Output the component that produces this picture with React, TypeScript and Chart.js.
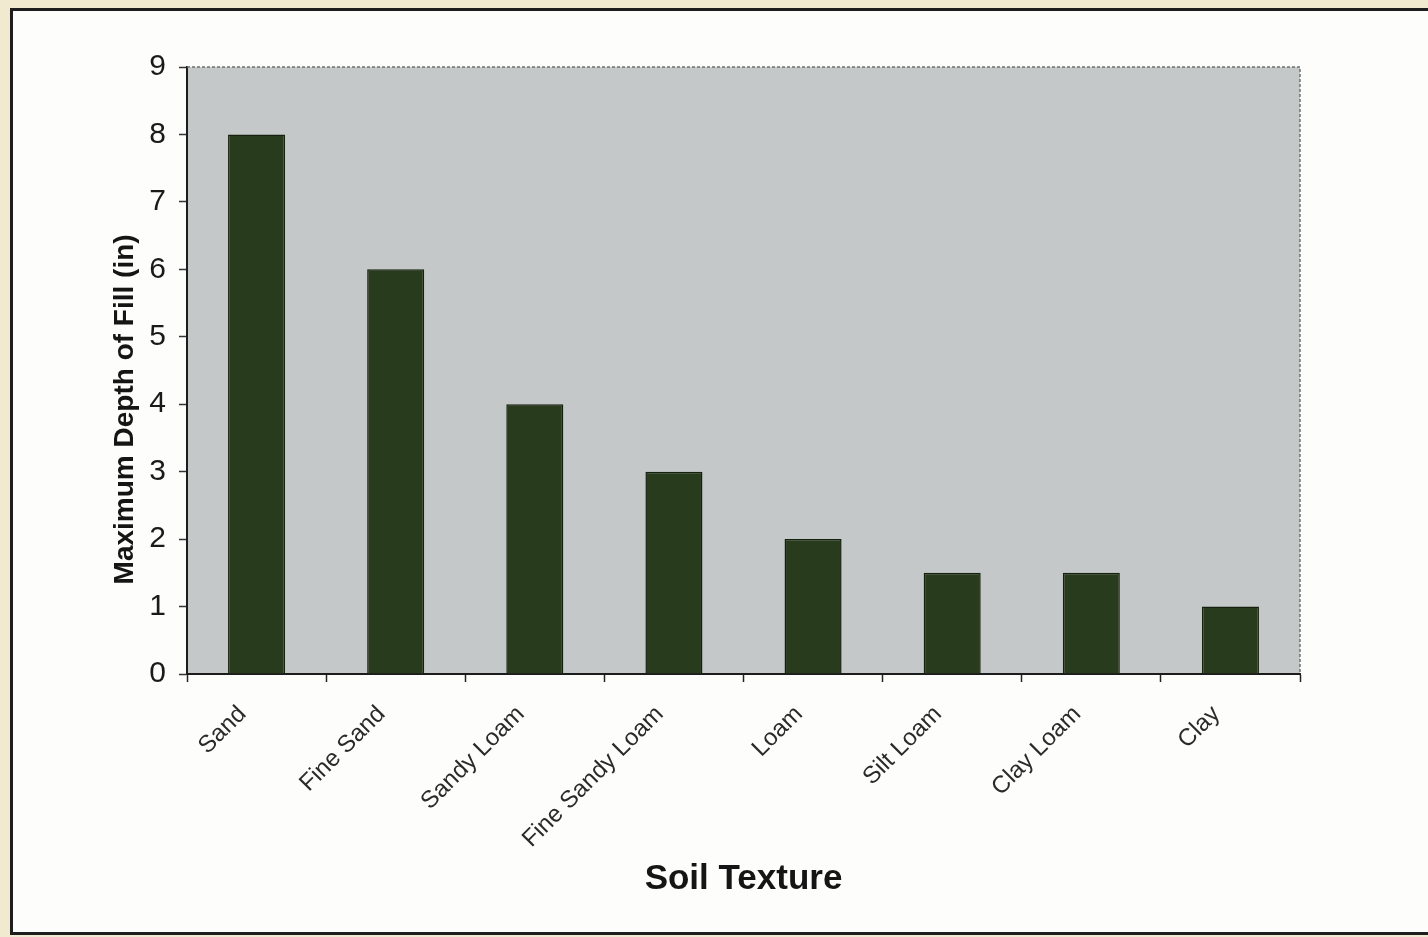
import React, { useEffect, useRef } from "react";
import { Chart, registerables } from "chart.js";

Chart.register(...registerables);

const categories = [
  "Sand",
  "Fine Sand",
  "Sandy Loam",
  "Fine Sandy Loam",
  "Loam",
  "Silt Loam",
  "Clay Loam",
  "Clay",
];
const depthValues = [8, 6, 4, 3, 2, 1.5, 1.5, 1];
const yTickMin = 0;
const yTickMax = 9;
const yTickStep = 1;
const xTitle = "Soil Texture";
const yTitle = "Maximum Depth of Fill (in)";

const FONT = "'Liberation Sans', Arial, Helvetica, sans-serif";

const plotFrame = {
  id: "plotFrame",
  beforeDraw(chart: any) {
    const { ctx, chartArea } = chart;
    ctx.save();
    ctx.fillStyle = "#c5c8c8";
    ctx.fillRect(
      chartArea.left,
      chartArea.top,
      chartArea.right - chartArea.left,
      chartArea.bottom - chartArea.top
    );
    ctx.restore();
  },
  afterDraw(chart: any) {
    const { ctx, chartArea } = chart;
    ctx.save();
    ctx.strokeStyle = "#6f7070";
    ctx.lineWidth = 1.5;
    ctx.setLineDash([3, 2]);
    ctx.beginPath();
    ctx.moveTo(chartArea.left, chartArea.top);
    ctx.lineTo(chartArea.right, chartArea.top);
    ctx.lineTo(chartArea.right, chartArea.bottom);
    ctx.stroke();
    ctx.restore();
  },
};

export default function App() {
  const canvasRef = useRef<HTMLCanvasElement | null>(null);

  useEffect(() => {
    if (!canvasRef.current) return;
    const chart = new Chart(canvasRef.current, {
      type: "bar",
      data: {
        labels: categories,
        datasets: [
          {
            label: yTitle,
            data: depthValues,
            backgroundColor: "#293b1d",
            borderColor: "#16200e",
            borderWidth: 1.5,
            barPercentage: 0.41,
            categoryPercentage: 1,
          },
        ],
      },
      options: {
        responsive: false,
        animation: false,
        devicePixelRatio: 1,
        layout: { padding: { top: 67, right: 128, left: 0, bottom: 0 } },
        plugins: {
          legend: { display: false },
          tooltip: { enabled: false },
        },
        scales: {
          x: {
            afterFit: (scale: any) => {
              scale.height = 263;
            },
            grid: {
              offset: true,
              drawOnChartArea: false,
              drawTicks: true,
              tickLength: 8,
              tickColor: "#222",
              tickWidth: 1.5,
            },
            border: { color: "#1c1c1c", width: 2 },
            ticks: {
              minRotation: 45,
              maxRotation: 45,
              autoSkip: false,
              padding: 4,
              color: "#2a2a2a",
              font: { family: FONT, size: 24 },
              callback: function (this: any, value: any) {
                return this.getLabelForValue(value) + "   ";
              },
            },
            title: {
              display: true,
              text: xTitle,
              color: "#151515",
              font: { family: FONT, size: 35, weight: "bold" },
              padding: { top: 0, bottom: 37 },
            },
          },
          y: {
            min: yTickMin,
            max: yTickMax,
            afterFit: (scale: any) => {
              scale.width = 187;
            },
            grid: {
              drawOnChartArea: false,
              drawTicks: true,
              tickLength: 8,
              tickColor: "#333",
              tickWidth: 1.5,
            },
            border: { color: "#1c1c1c", width: 2 },
            ticks: {
              stepSize: yTickStep,
              padding: 13,
              color: "#1a1a1a",
              font: { family: FONT, size: 30 },
            },
            title: {
              display: true,
              text: yTitle + "          ",
              color: "#151515",
              font: { family: FONT, size: 28, weight: "bold" },
              padding: { top: 108, bottom: 0 },
            },
          },
        },
      },
      plugins: [plotFrame],
    });
    return () => chart.destroy();
  }, []);

  return (
    <div
      style={{
        position: "fixed",
        left: 0,
        top: 0,
        width: 1428,
        height: 937,
        background: "#f2ead0",
        overflow: "hidden",
      }}
    >
      <div
        style={{
          position: "absolute",
          left: 10,
          top: 8,
          width: 1450,
          height: 927,
          boxSizing: "border-box",
          border: "3px solid #1e1e1e",
          background: "#fdfdfc",
        }}
      />
      <canvas
        ref={canvasRef}
        width={1428}
        height={937}
        style={{ position: "absolute", left: 0, top: 0, width: 1428, height: 937 }}
      />
    </div>
  );
}
